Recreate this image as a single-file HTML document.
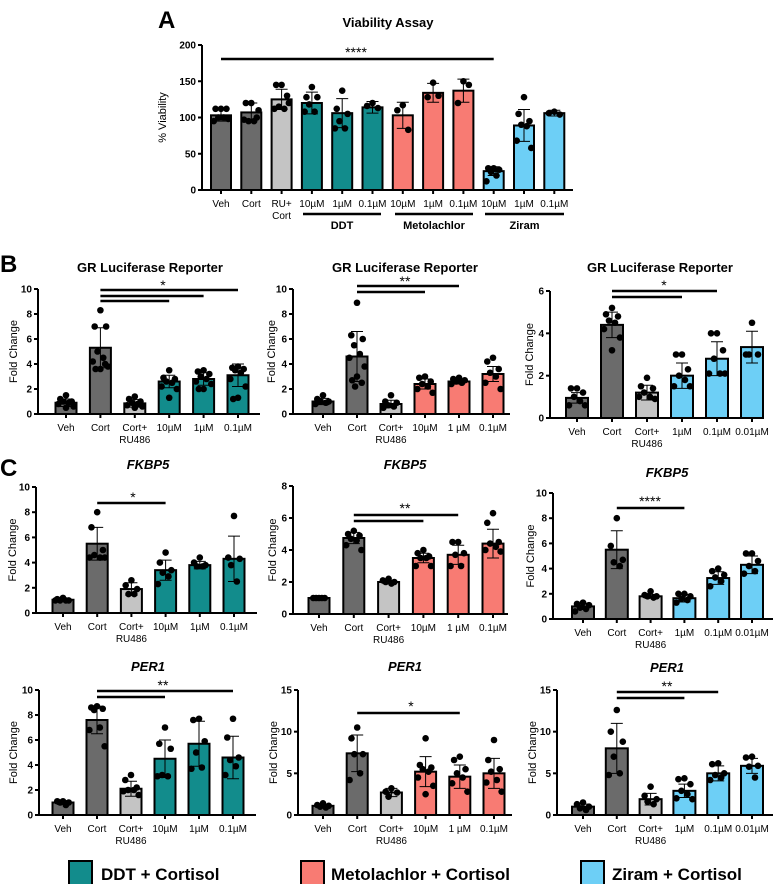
<!DOCTYPE html>
<html><head><meta charset="utf-8">
<style>
html,body{margin:0;padding:0;background:#fff;}
body{width:776px;height:884px;overflow:hidden;font-family:"Liberation Sans",Arial,sans-serif;}
svg{display:block;}
</style></head>
<body>
<svg id="fig" width="776" height="884" viewBox="0 0 776 884" xmlns="http://www.w3.org/2000/svg" font-family="Liberation Sans, Arial, sans-serif">
  <text x="158" y="28" font-size="24" font-weight="bold">A</text>
  <text x="0" y="272" font-size="24" font-weight="bold">B</text>
  <text x="0" y="476" font-size="24" font-weight="bold">C</text>
  <g>
    <rect x="69" y="861" width="23" height="24" fill="#128c8c" stroke="#000" stroke-width="2"/>
    <text x="101" y="880" font-size="17" font-weight="bold">DDT + Cortisol</text>
    <rect x="301" y="861" width="23" height="24" fill="#f87b73" stroke="#000" stroke-width="2"/>
    <text x="331" y="880" font-size="17" font-weight="bold">Metolachlor + Cortisol</text>
    <rect x="581" y="861" width="23" height="24" fill="#6dcff6" stroke="#000" stroke-width="2"/>
    <text x="612" y="880" font-size="17" font-weight="bold">Ziram + Cortisol</text>
  </g>
</svg>
<script>
// ---------- DATA ----------
const aCats = ["Veh","Cort","RU+|Cort","10µM","1µM","0.1µM","10µM","1µM","0.1µM","10µM","1µM","0.1µM"];
const aMeans = [103,107,125,120,106,114,103,134,137,26,89,106];
const aSds = [8,13,14,15,20,8,18,13,16,6,22,4];
const aPoints = [[112,112,112,100,100,95,98],[120,120,100,95,95,97,110],[145,145,130,115,112,112,120],[142,128,128,118,108,108],[137,112,105,95,85,85],[120,116,113],[117,110,83],[148,128,130],[150,120,145],[30,30,28,25,20,12],[128,105,95,90,88,68,58],[108,106,104]];
const aTicks = [0,50,100,150,200];

const b1Cats = ["Veh","Cort","Cort+|RU486","10µM","1µM","0.1µM"];
const b1Means = [0.9,5.3,0.85,2.6,2.8,3.1];
const b1Sds = [0.3,1.6,0.3,0.5,0.5,0.9];
const b1Points = [[1.5,1.2,1,1,0.9,0.8,0.6,0.5],[8.3,7,7,5,4.5,4.2,3.8,3.6,3.6,4],[1.4,1.2,1,0.9,0.8,0.7,0.6,0.5],[3.5,2.9,2.8,2.6,2.5,2.2,2,1.3],[3.5,3.4,3.2,3,2.8,2.6,2.4,2,2],[3.8,3.7,3.6,3.5,3.3,2.8,2.2,1.3,1.2]];
const b1Ticks = [0,2,4,6,8,10];

const b2Cats = ["Veh","Cort","Cort+|RU486","10µM","1 µM","0.1µM"];
const b2Means = [1.0,4.6,0.8,2.4,2.6,3.2];
const b2Sds = [0.25,2,0.3,0.4,0.2,0.6];
const b2Points = [[1.5,1.2,1,1,0.9,0.8],[8.9,6.3,6,5.5,4.8,4.5,3.8,3,2.7,2.5,2.2],[1.5,1,0.9,0.7,0.6,0.5],[3,2.9,2.6,2.4,2.2,2,1.7],[2.9,2.8,2.7,2.6,2.5,2.4],[4.5,4.2,3.6,3.3,3,2.5,2]];
const b2Ticks = [0,2,4,6,8,10];

const b3Cats = ["Veh","Cort","Cort+|RU486","1µM","0.1µM","0.01µM"];
const b3Means = [0.95,4.4,1.2,2.0,2.8,3.35];
const b3Sds = [0.25,0.6,0.35,0.6,0.8,0.75];
const b3Points = [[1.4,1.4,1.2,1,0.8,0.6,0.6],[5.2,4.9,4.8,4.6,4.5,4.2,3.8,3.2],[1.9,1.5,1.4,1.2,1,1,0.9],[3,3,2.3,2,1.8,1.5,1.5],[4,4,3.2,2.8,2.1,2.1,2.1],[4.5,3,3,3]];
const b3Ticks = [0,2,4,6];

const c1Cats = ["Veh","Cort","Cort+|RU486","10µM","1µM","0.1µM"];
const c1Means = [1.05,5.5,1.9,3.4,3.8,4.3];
const c1Sds = [0.1,1.3,0.5,0.8,0.3,1.8];
const c1Points = [[1.2,1.1,1,1,1,1],[8,6.8,5,4.6,4.4,4.4,4.4],[2.6,2.2,1.9,1.5,1.5],[4.8,4,3.4,3.2,2.9,2.3],[4.4,4,3.8,3.7,3.7],[7.7,4.4,4.3,3.8,2.5]];
const c1Ticks = [0,2,4,6,8,10];

const c2Cats = ["Veh","Cort","Cort+|RU486","10µM","1 µM","0.1µM"];
const c2Means = [1.0,4.75,2.0,3.5,3.7,4.4];
const c2Sds = [0.05,0.35,0.1,0.3,0.6,0.9];
const c2Points = [[1,1,1,1,1],[5.2,5,4.9,4.7,4.6,4.3,4],[2.2,2.1,2,2,1.9],[4,3.8,3.6,3.5,3.5,3,3],[4.5,4.5,3.8,3.7,3,3],[6.3,5.7,4.5,4.4,4.2,4,3.9]];
const c2Ticks = [0,2,4,6,8];

const c3Cats = ["Veh","Cort","Cort+|RU486","1µM","0.1µM","0.01µM"];
const c3Means = [1.0,5.5,1.8,1.65,3.25,4.3];
const c3Sds = [0.25,1.5,0.15,0.3,0.5,0.7];
const c3Points = [[1.3,1.2,1.1,0.9,0.8,0.6],[8,5.8,4.7,4.5,4.2],[2.2,1.9,1.8,1.8,1.7],[2,2,1.8,1.6,1.5,1.3],[4,3.8,3.5,3.3,3,2.6],[5.2,5.2,4.6,4.2,3.8,3.6]];
const c3Ticks = [0,2,4,6,8,10];

const d1Cats = ["Veh","Cort","Cort+|RU486","10µM","1µM","0.1µM"];
const d1Means = [1.0,7.6,2.1,4.5,5.7,4.6];
const d1Sds = [0.15,1.1,0.6,1.5,1.8,1.7];
const d1Points = [[1.1,1.1,1,1,0.8],[8.7,8.6,8.5,8.4,7,6.8,5.5],[3.2,2.8,2.2,2,2,1.9,1.6],[7,5.7,5.3,3.2,3.1,3.1],[7.7,7.6,5.9,5,3.8,3.7],[7.7,6.2,4.6,4.4,3.9,3.2]];
const d1Ticks = [0,2,4,6,8,10];

const d2Cats = ["Veh","Cort","Cort+|RU486","10µM","1 µM","0.1µM"];
const d2Means = [1.1,7.4,2.7,5.2,4.6,5.0];
const d2Sds = [0.2,2.2,0.5,1.8,1.4,1.8];
const d2Points = [[1.4,1.2,1.1,1,0.9],[10.5,9.2,7.3,7.3,5,4.2],[3.2,2.8,2.7,2.2],[9.2,6,5.7,5.5,5.2,4.5,3.5,2.5],[7,6.6,5.5,5,4.5,3.8,2.8],[9,6.6,5.5,5.2,4.2,3.9,2.8]];
const d2Ticks = [0,5,10,15];

const d3Cats = ["Veh","Cort","Cort+|RU486","1µM","0.1µM","0.01µM"];
const d3Means = [1.0,8.0,1.9,2.9,5.0,5.9];
const d3Sds = [0.3,3,0.7,0.8,0.9,0.9];
const d3Points = [[1.5,1.3,1,0.8,0.6],[12.6,10,8.8,7,5,4.8],[3.4,2.3,1.9,1.6,1.3],[4.4,4.3,3.7,2.9,2.5,2,1.9],[6.2,6.1,5,4.8,4.5,4.2],[7,6.9,5.9,5.8,4.5]];
const d3Ticks = [0,5,10,15];

// ---------- LAYOUT ----------
const DARK="#6b6b6b", LIGHT="#c4c4c4", TEAL="#128c8c", SAL="#f87b73", BLUE="#6dcff6";
const panels = [
 {id:"viability",title:"Viability Assay",italic:false,tx:388,ty:27,cats:aCats,means:aMeans,sds:aSds,pts:aPoints,ticks:aTicks,max:200,ax:202,axEnd:573,yTop:45,y0:190,x0:221,sp:30.3,bw:20,ylab:"% Viability",ylx:163,cols:[DARK,DARK,LIGHT,TEAL,TEAL,TEAL,SAL,SAL,SAL,BLUE,BLUE,BLUE],
  sig:[{from:0,to:9,y:59}],star:{t:"****",x:356,y:57}},
 {id:"gr-ddt",title:"GR Luciferase Reporter",tx:150,ty:272,cats:b1Cats,means:b1Means,sds:b1Sds,pts:b1Points,ticks:b1Ticks,max:10,ax:38,axEnd:260,yTop:289,y0:414,x0:66,sp:34.4,bw:21,ylab:"Fold Change",ylx:14,cols:[DARK,DARK,LIGHT,TEAL,TEAL,TEAL],
  sig:[{from:1,to:5,y:290},{from:1,to:4,y:296},{from:1,to:3,y:301}],star:{t:"*",x:163,y:290}},
 {id:"gr-metolachlor",title:"GR Luciferase Reporter",tx:405,ty:272,cats:b2Cats,means:b2Means,sds:b2Sds,pts:b2Points,ticks:b2Ticks,max:10,ax:293,axEnd:510,yTop:289,y0:414,x0:323,sp:34,bw:21,ylab:"Fold Change",ylx:272,cols:[DARK,DARK,LIGHT,SAL,SAL,SAL],
  sig:[{from:1,to:4,y:286},{from:1,to:3,y:292}],star:{t:"**",x:405,y:286}},
 {id:"gr-ziram",title:"GR Luciferase Reporter",tx:660,ty:272,cats:b3Cats,means:b3Means,sds:b3Sds,pts:b3Points,ticks:b3Ticks,max:6,ax:550,axEnd:763,yTop:291,y0:418,x0:577,sp:35,bw:22,ylab:"Fold Change",ylx:530,cols:[DARK,DARK,LIGHT,BLUE,BLUE,BLUE],
  sig:[{from:1,to:4,y:291},{from:1,to:3,y:297}],star:{t:"*",x:664,y:290}},
 {id:"fkbp5-ddt",title:"FKBP5",italic:true,tx:148,ty:469,cats:c1Cats,means:c1Means,sds:c1Sds,pts:c1Points,ticks:c1Ticks,max:10,ax:36,axEnd:257,yTop:487,y0:613,x0:63,sp:34.2,bw:21,ylab:"Fold Change",ylx:13,cols:[DARK,DARK,LIGHT,TEAL,TEAL,TEAL],
  sig:[{from:1,to:3,y:503}],star:{t:"*",x:133,y:502}},
 {id:"fkbp5-metolachlor",title:"FKBP5",italic:true,tx:405,ty:469,cats:c2Cats,means:c2Means,sds:c2Sds,pts:c2Points,ticks:c2Ticks,max:8,ax:293,axEnd:508,yTop:486,y0:614,x0:319,sp:34.8,bw:21,ylab:"Fold Change",ylx:273,cols:[DARK,DARK,LIGHT,SAL,SAL,SAL],
  sig:[{from:1,to:4,y:515},{from:1,to:3,y:521}],star:{t:"**",x:405,y:513}},
 {id:"fkbp5-ziram",title:"FKBP5",italic:true,tx:667,ty:477,cats:c3Cats,means:c3Means,sds:c3Sds,pts:c3Points,ticks:c3Ticks,max:10,ax:553,axEnd:773,yTop:493,y0:619,x0:583,sp:33.8,bw:22,ylab:"Fold Change",ylx:531,cols:[DARK,DARK,LIGHT,BLUE,BLUE,BLUE],
  sig:[{from:1,to:3,y:508}],star:{t:"****",x:650,y:506}},
 {id:"per1-ddt",title:"PER1",italic:true,tx:148,ty:671,cats:d1Cats,means:d1Means,sds:d1Sds,pts:d1Points,ticks:d1Ticks,max:10,ax:39,axEnd:256,yTop:690,y0:815,x0:63,sp:34,bw:21,ylab:"Fold Change",ylx:14,cols:[DARK,DARK,LIGHT,TEAL,TEAL,TEAL],
  sig:[{from:1,to:5,y:691},{from:1,to:3,y:697}],star:{t:"**",x:163,y:690}},
 {id:"per1-metolachlor",title:"PER1",italic:true,tx:405,ty:671,cats:d2Cats,means:d2Means,sds:d2Sds,pts:d2Points,ticks:d2Ticks,max:15,ax:298,axEnd:512,yTop:690,y0:815,x0:323,sp:34.2,bw:21,ylab:"Fold Change",ylx:274,cols:[DARK,DARK,LIGHT,SAL,SAL,SAL],
  sig:[{from:1,to:4,y:713}],star:{t:"*",x:411,y:711}},
 {id:"per1-ziram",title:"PER1",italic:true,tx:667,ty:672,cats:d3Cats,means:d3Means,sds:d3Sds,pts:d3Points,ticks:d3Ticks,max:15,ax:557,axEnd:773,yTop:690,y0:815,x0:583,sp:33.8,bw:22,ylab:"Fold Change",ylx:533,cols:[DARK,DARK,LIGHT,BLUE,BLUE,BLUE],
  sig:[{from:1,to:4,y:692},{from:1,to:3,y:698}],star:{t:"**",x:667,y:691}}
];
const jit=[0,-6,6,-3,3,-8,8,0,-5,5,-2];
const NS="http://www.w3.org/2000/svg";
const svg=document.getElementById("fig");
function mk(tag,attrs,parent){const e=document.createElementNS(NS,tag);for(const k in attrs)e.setAttribute(k,attrs[k]);(parent||svg).appendChild(e);return e;}

panels.forEach(p=>{
  const g=mk("g",{});
  
  
  const Y=v=>p.y0-(v/p.max)*(p.y0-p.yTop);
  const X=i=>p.x0+i*p.sp;
  const t=mk("text",{x:p.tx,y:p.ty,"text-anchor":"middle","font-size":13,"font-weight":"bold","font-style":p.italic?"italic":"normal"},g);
  t.textContent=p.title;
  
  
  p.means.forEach((m,i)=>{
    const r=mk("rect",{x:X(i)-p.bw/2,y:Y(m),width:p.bw,height:p.y0-Y(m),fill:p.cols[i],stroke:"#000","stroke-width":2},g);
    
    
  });
  p.means.forEach((m,i)=>{
    const s=p.sds[i],cx=X(i);
    const e=mk("path",{d:`M${cx},${Y(m-s)}V${Y(m+s)}M${cx-6},${Y(m+s)}H${cx+6}M${cx-6},${Y(m-s)}H${cx+6}`,stroke:"#000","stroke-width":1,fill:"none"},g);
    
    
  });
  p.pts.forEach((arr,i)=>{arr.forEach((v,k)=>{
    const c=mk("circle",{cx:X(i)+jit[k%jit.length]*(p.bw/22),cy:Y(v),r:3.3,fill:"#000"},g);
    
    
  });});
  const ax=mk("path",{d:`M${p.ax},${p.yTop}V${p.y0}H${p.axEnd}`,stroke:"#000","stroke-width":2,fill:"none"},g);
  
  
  p.ticks.forEach(v=>{
    mk("line",{x1:p.ax-4,x2:p.ax,y1:Y(v),y2:Y(v),stroke:"#000","stroke-width":2},g);
    const tl=mk("text",{x:p.ax-6,y:Y(v)+3.5,"text-anchor":"end","font-size":10,"font-weight":"bold"},g);
    tl.textContent=v;
    
    
  });
  p.cats.forEach((c,i)=>{
    mk("line",{x1:X(i),x2:X(i),y1:p.y0,y2:p.y0+4,stroke:"#000","stroke-width":2},g);
    c.split("|").forEach((ln,j)=>{
      const tl=mk("text",{x:X(i),y:p.y0+17+j*12,"text-anchor":"middle","font-size":10},g);
      tl.textContent=ln;
      
      
    });
  });
  const yl=mk("text",{x:p.ylx,y:(p.yTop+p.y0)/2,"text-anchor":"middle","font-size":11,transform:`rotate(-90 ${p.ylx} ${(p.yTop+p.y0)/2})`,"dominant-baseline":"middle"},g);
  yl.textContent=p.ylab;
  
  
  p.sig.forEach(s=>{
    const l=mk("line",{x1:X(s.from),x2:X(s.to),y1:s.y,y2:s.y,stroke:"#000","stroke-width":2.5},g);
    
    
  });
  const st=mk("text",{x:p.star.x,y:p.star.y,"text-anchor":"middle","font-size":14},g);
  st.textContent=p.star.t;
  
  
});
const grp=[["DDT",303,381],["Metolachlor",395,473],["Ziram",485,564]];
grp.forEach(a=>{
  const l=mk("line",{x1:a[1],x2:a[2],y1:214,y2:214,stroke:"#000","stroke-width":2.5});
  
  
  const t=mk("text",{x:(a[1]+a[2])/2,y:229,"text-anchor":"middle","font-size":11,"font-weight":"bold"});
  t.textContent=a[0];
  
  
});
</script>
</body></html>
